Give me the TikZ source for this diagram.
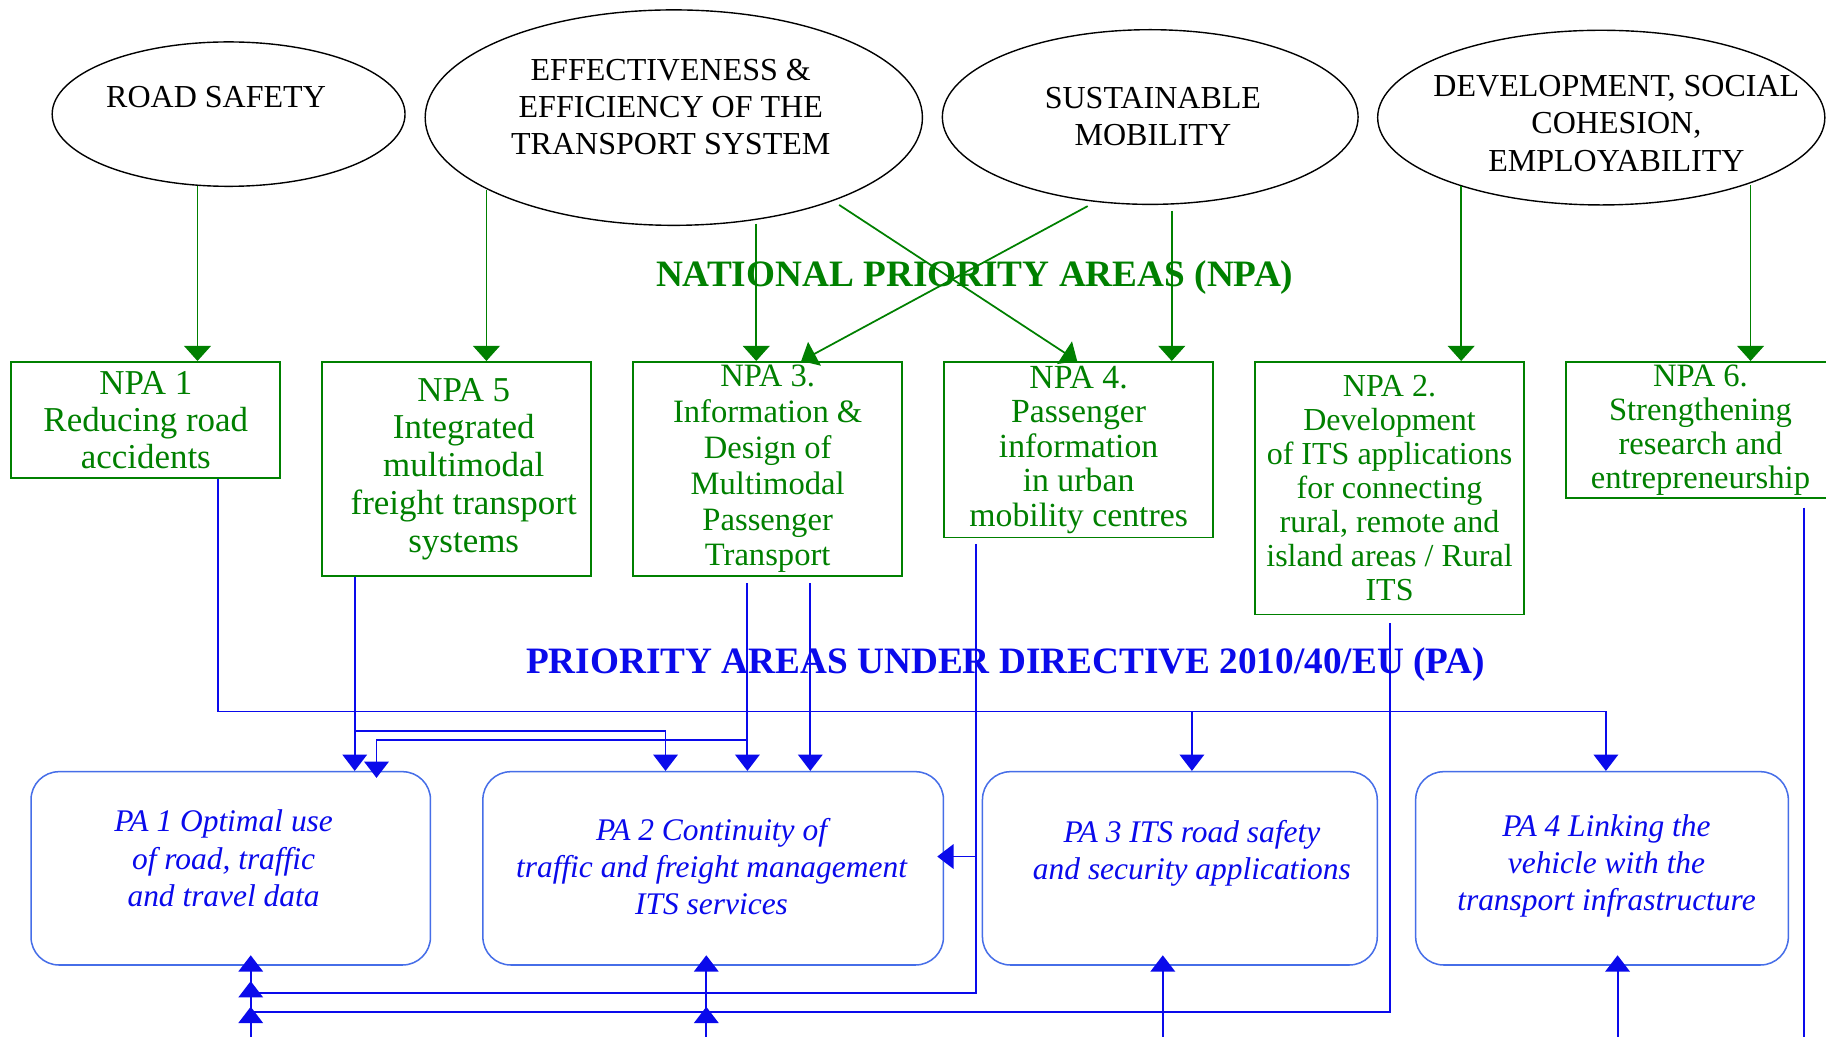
\documentclass[tikz,border=0pt]{standalone}
\usepackage{fontspec}
\setmainfont{Liberation Serif}
\usetikzlibrary{shapes.geometric,arrows.meta}
\definecolor{gr}{RGB}{0,128,0}
\definecolor{bl}{RGB}{10,10,235}
\definecolor{pabl}{RGB}{70,110,232}
\begin{document}
\begin{tikzpicture}[x=1pt,y=-1pt,
  ell/.style={draw=black, line width=1.2pt, ellipse, inner sep=0pt},
  etxt/.style={font=\fontsize{27.5}{32}\selectfont, align=center, inner sep=0pt},
  npa/.style={draw=gr, line width=1.4pt, text=gr, align=center, inner sep=0pt, minimum width=231pt, anchor=north west},
  pa/.style={draw=pabl, line width=1.3pt, rounded corners=24pt, anchor=north west, inner sep=0pt},
  patxt/.style={text=bl, font=\fontsize{27}{32}\selectfont\itshape, align=center, inner sep=0pt},
  garr/.style={draw=gr, line width=1.5pt, -{Triangle[length=13pt,width=23pt]}},
  barr/.style={draw=bl, line width=1.6pt, -{Triangle[length=14pt,width=21pt]}},
  bline/.style={draw=bl, line width=1.6pt},
  ttl/.style={anchor=base, font=\fontsize{32}{36}\selectfont\bfseries, inner sep=0pt}
]
\fill[white] (0,0) rectangle (1568,890);
\useasboundingbox (0,0) rectangle (1568,890);

% ellipses
\node[ell, minimum width=303pt, minimum height=124pt] (RS) at (196.3,98) {};
\node[ell, minimum width=427pt, minimum height=185pt] (EFF) at (578.6,101) {};
\node[ell, minimum width=357pt, minimum height=150pt] (SUS) at (987.7,100.5) {};
\node[ell, minimum width=384pt, minimum height=150pt] (DEV) at (1375,101) {};
\node[etxt] (RSt) at (185.5,83) {ROAD SAFETY};
\node[etxt] (EFFt) at (576,92) {EFFECTIVENESS \&\\EFFICIENCY OF THE\\TRANSPORT SYSTEM};
\node[etxt] (SUSt) at (990,100) {SUSTAINABLE\\MOBILITY};
\node[etxt] (DEVt) at (1388,106) {DEVELOPMENT, SOCIAL\\COHESION,\\EMPLOYABILITY};

% titles
\node[ttl, text=gr] (T1) at (837,245.6) {NATIONAL PRIORITY AREAS (NPA)};
\node[ttl, text=bl] (T2) at (863.5,578.6) {PRIORITY AREAS UNDER DIRECTIVE 2010/40/EU (PA)};

% NPA boxes
\node[npa, minimum height=100pt, font=\fontsize{30}{32}\selectfont] (NPA1) at (9,310) {NPA 1\\Reducing road\\accidents};
\node[npa, minimum height=184pt, font=\fontsize{30}{32.5}\selectfont] (NPA5) at (276,310) {\hspace*{12pt}NPA 5\\\hspace*{12pt}Integrated\\\hspace*{12pt}multimodal\\\hspace*{12pt}freight transport\\\hspace*{12pt}systems};
\node[npa, minimum height=184pt, font=\fontsize{28}{30.8}\selectfont] (NPA3) at (543,310) {NPA 3.\\Information \&\\Design of\\Multimodal\\Passenger\\Transport};
\node[npa, minimum height=151pt, font=\fontsize{29}{29.7}\selectfont] (NPA4) at (810,310) {NPA 4.\\Passenger\\information\\in urban\\mobility centres};
\node[npa, minimum height=217pt, font=\fontsize{27.5}{29.3}\selectfont] (NPA2) at (1077,310) {NPA 2.\\Development\\of ITS applications\\for connecting\\rural, remote and\\island areas / Rural\\ITS};
\node[npa, minimum height=117pt, font=\fontsize{28}{29.3}\selectfont] (NPA6) at (1344,310) {NPA 6.\\Strengthening\\research and\\entrepreneurship};

% PA boxes
\node[pa, minimum width=343pt, minimum height=166pt] (PA1) at (26,662) {};
\node[pa, minimum width=395.5pt, minimum height=166pt] (PA2) at (414,662) {};
\node[pa, minimum width=339pt, minimum height=166pt] (PA3) at (843,662) {};
\node[pa, minimum width=320pt, minimum height=166pt] (PA4) at (1215,662) {};
\node[patxt] (PA1t) at (192,737) {PA 1 Optimal use\\of road, traffic\\and travel data};
\node[patxt] (PA2t) at (611,744) {PA 2 Continuity of\\traffic and freight management\\ITS services};
\node[patxt] (PA3t) at (1023.5,733) {PA 3 ITS road safety\\and security applications};
\node[patxt] (PA4t) at (1379.5,743.5) {PA 4 Linking the\\vehicle with the\\transport infrastructure};

% green connectors
\coordinate (g1) at (169.6,160);
\coordinate (g5) at (417.7,163);
\coordinate (g3) at (649.4,192);
\coordinate (g4) at (1006.2,181);
\coordinate (g2) at (1254.7,160);
\coordinate (g6) at (1503.2,159);
\coordinate (d1) at (720.6,176);
\coordinate (d2) at (934,177);
\draw[garr] (g1) -- (g1 |- NPA1.north);
\draw[garr] (g5) -- (g5 |- NPA5.north);
\draw[garr] (g3) -- (g3 |- NPA3.north);
\draw[garr] (g4) -- (g4 |- NPA4.north);
\draw[garr] (g2) -- (g2 |- NPA2.north);
\draw[garr] (g6) -- (g6 |- NPA6.north);
\draw[garr] (d1) -- ([xshift=115pt]NPA4.north west);
\draw[garr] (d2) -- ([xshift=145pt]NPA3.north west);

% blue connectors
\coordinate (busA) at (1379,611);
\coordinate (busA3) at (1023.5,611);
\draw[barr] ([xshift=178pt]NPA1.south west) |- (busA) -- (busA |- PA4.north);
\draw[barr] (busA3) -- (busA3 |- PA3.north);

\coordinate (s5) at ([xshift=28.6pt]NPA5.south west);
\draw[barr] (s5) -- (s5 |- PA1.north);
\coordinate (b5) at (304.6,628);
\draw[barr] (b5) -| ([xshift=157.5pt]PA2.north west);

\coordinate (s3a) at (641.8,501);
\coordinate (s3b) at (695.8,501);
\draw[barr] (s3a) -- (s3a |- PA2.north);
\draw[barr] (s3b) -- (s3b |- PA2.north);
\coordinate (b3) at (641.8,635.5);
\draw[barr, shorten >=-6pt] (b3) -| ([xshift=-47pt]PA1.north east);

\coordinate (s4) at (838,467);
\coordinate (j1) at (215.3,852.5);
\coordinate (j2) at (215.3,869);
\draw[bline] (s4) |- (j1);
\coordinate (k4) at (838,735.5);
\draw[barr, shorten >=-6pt] (k4) -- (k4 -| PA2.east);
\coordinate (s2) at (1193.7,535);
\draw[bline] (s2) |- (j2);

\coordinate (bot1) at (215.3,900);
\draw[barr, shorten >=-4.5pt] (bot1) -- (j2);
\draw[barr, shorten >=-10pt] (j2) -- (j1);
\draw[barr, shorten >=-9pt] (j1) -- (j1 |- PA1.south);

\coordinate (bot2) at (606.5,900);
\coordinate (j3) at (606.5,869);
\draw[barr, shorten >=-4.5pt] (bot2) -- (j3);
\draw[barr, shorten >=-9pt] (j3) -- (j3 |- PA2.south);

\coordinate (bot3) at (998.5,900);
\draw[barr, shorten >=-9pt] (bot3) -- (bot3 |- PA3.south);
\coordinate (bot4) at (1389,900);
\draw[barr, shorten >=-9pt] (bot4) -- (bot4 |- PA4.south);

\coordinate (s6) at (1549,436);
\coordinate (bot6) at (1549,900);
\draw[bline] (s6) -- (bot6);
\end{tikzpicture}
\end{document}
